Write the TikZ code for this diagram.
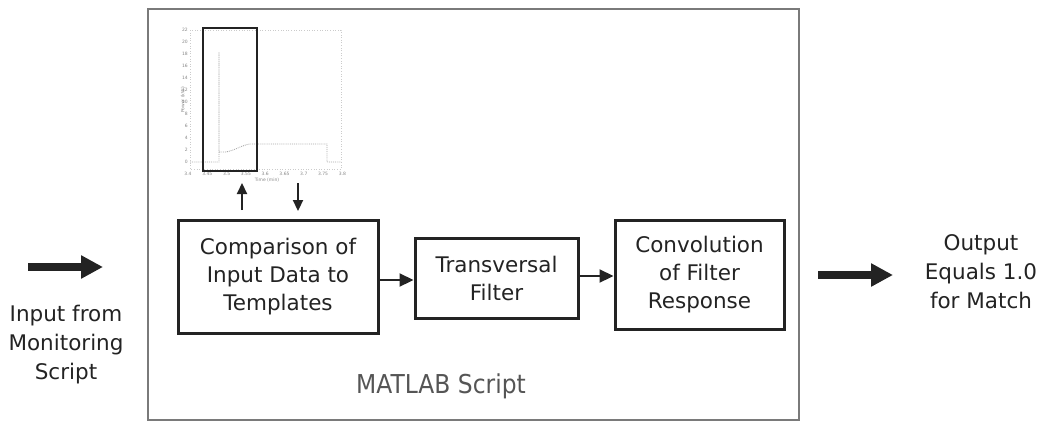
\documentclass[tikz,border=0pt]{standalone}
\usepackage{fontspec}
\setmainfont{DejaVu Sans}
\newfontfamily\narrowfont[FakeStretch=0.9]{DejaVu Sans}
\usetikzlibrary{arrows.meta}
\definecolor{ink}{HTML}{232323}
\definecolor{frame}{HTML}{7A7A7A}
\definecolor{plotgray}{HTML}{A8A8A8}
\tikzset{
  procbox/.style={draw=ink, line width=3pt, inner sep=0pt, align=center, text=ink,
    font=\fontsize{21.5}{28}\selectfont},
  sidetext/.style={align=center, text=ink, inner sep=0pt, font=\fontsize{21.5}{29}\selectfont},
  thinarrow/.style={draw=ink, line width=2.2pt, -{Triangle[length=14pt,width=13pt]}},
  thickarrow/.style={draw=ink, line width=7.5pt, -{Triangle[length=22pt,width=22pt]}},
  smallarrow/.style={draw=ink, line width=2.2pt, -{Triangle[length=11pt,width=10pt]}},
  ticklab/.style={text=plotgray!80!black, inner sep=0pt, font=\fontsize{4.5}{5}\selectfont},
  datacurve/.style={draw=plotgray, line width=0.9pt, densely dotted},
}
\begin{document}
\begin{tikzpicture}[x=1pt,y=-1pt]
\useasboundingbox (0,0) rectangle (1041,421);
% outer MATLAB box
\node[draw=frame, line width=2.5pt, minimum width=651pt, minimum height=411pt, inner sep=0pt]
  (outer) at (473.5,214.5) {};
\node[text=frame!70!black, inner sep=0pt, font=\narrowfont\fontsize{26}{30}\selectfont]
  (matlab) at (441,386) {MATLAB Script};

% small plot
\draw[plotgray!60, line width=0.6pt, dotted] (190,30) rectangle (341,169);
\foreach \v [count=\i from 0] in {22,20,18,16,14,12,10,8,6,4,2,0}
  \node[ticklab, anchor=east] at (188,{30+\i*12}) {\v};
\foreach \v [count=\i from 0] in {3.4,3.45,3.5,3.55,3.6,3.65,3.7,3.75,3.8}
  \node[ticklab] at ({188+\i*19.3},174) {\v};
\node[ticklab] (tlab) at (267,180) {Time (min)};
\node[ticklab, rotate=90] (plab) at (183,100) {Power (kW)};
\draw[datacurve] (190,162) -- (219,162) -- (219,52) -- (219,152) -- (226,152)
  .. controls (236,150) and (242,145) .. (250,144) -- (327,144) -- (327,162) -- (341,162);
\node[draw=ink, line width=2.5pt, minimum width=54pt, minimum height=143pt, inner sep=0pt]
  (win) at (230,99.5) {};

% process boxes
\node[procbox, minimum width=200pt, minimum height=113pt] (b1) at (278,276.5)
  {Comparison of\\Input Data to\\Templates};
\node[procbox, minimum width=163pt, minimum height=80pt] (b2) at (496.5,278)
  {Transversal\\Filter};
\node[procbox, minimum width=169pt, minimum height=109pt] (b3) at (699.5,274.5)
  {Convolution\\of Filter\\Response};

% arrows between plot and box 1
\coordinate (upB) at (242,210);
\coordinate (upT) at (242,183);
\coordinate (dnT) at (298,183);
\coordinate (dnB) at (298,211);
\draw[smallarrow] (upB) -- (upT);
\draw[smallarrow] (dnT) -- (dnB);

\draw[thinarrow] (b1.east |- 0,280) -- (b2.west |- 0,280);
\draw[thinarrow] (b2.east |- 0,276) -- (b3.west |- 0,276);

% input / output
\coordinate (inA) at (28,267);
\coordinate (inB) at (103,267);
\draw[thickarrow] (inA) -- (inB);
\node[sidetext] (intext) at (66,345) {Input from\\Monitoring\\Script};

\coordinate (outA) at (818,275);
\coordinate (outB) at (893,275);
\draw[thickarrow] (outA) -- (outB);
\node[sidetext] (outtext) at (981,272) {Output\\Equals 1.0\\for Match};
\end{tikzpicture}
\end{document}
